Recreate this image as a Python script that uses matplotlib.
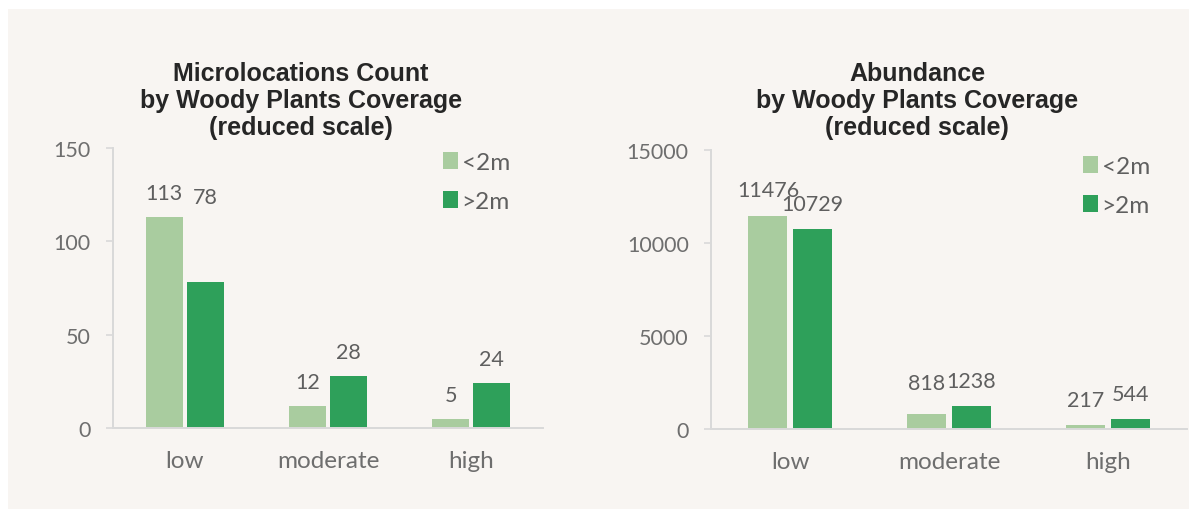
import matplotlib
matplotlib.use("Agg")
import matplotlib.pyplot as plt
from matplotlib.patches import Rectangle, Patch

# ---- data ----
categories = ["low", "moderate", "high"]
series_names = ["<2m", ">2m"]

count_under_2m = [113, 12, 5]
count_over_2m = [78, 28, 24]

abundance_under_2m = [11476, 818, 217]
abundance_over_2m = [10729, 1238, 544]

count_ticks = [0, 50, 100, 150]
abundance_ticks = [0, 5000, 10000, 15000]

count_title = "Microlocations Count\nby Woody Plants Coverage\n(reduced scale)"
abundance_title = "Abundance\nby Woody Plants Coverage\n(reduced scale)"

# ---- style ----
BG = "#f8f5f2"
LIGHT = "#a9cc9f"
DARK = "#2ea05a"
AXIS = "#d9d9d9"
TICK_TXT = "#6e6e6e"
LABEL_TXT = "#5f5f5f"
TITLE_TXT = "#262626"
BODY_FONT = ["Lato", "DejaVu Sans"]
TITLE_FONT = ["Liberation Sans", "DejaVu Sans"]
NUM_SIZE = 15.5
WORD_SIZE = 17.5

W, H = 1189, 510
fig = plt.figure(figsize=(W / 100, H / 100), dpi=100)
fig.patch.set_facecolor("white")

# light panel behind both charts
fig.patches.append(Rectangle((8 / W, 0), 1 - 8 / W, 1 - 10 / H,
                             transform=fig.transFigure, facecolor=BG,
                             edgecolor="none", zorder=-5))


def px_axes(x0, x1, y_top, y_base):
    return fig.add_axes([x0 / W, 1 - y_base / H, (x1 - x0) / W, (y_base - y_top) / H])


def draw_panel(ax, lo, hi, ticks, width, gap, label_pad, extra_pad):
    ax.set_facecolor("none")
    xs = range(len(categories))
    off = (width + gap) / 2
    bars_a = ax.bar([x - off for x in xs], lo, width=width, color=LIGHT, zorder=3)
    bars_b = ax.bar([x + off for x in xs], hi, width=width, color=DARK, zorder=3)
    ax.set_xlim(-0.5, len(categories) - 0.5)
    ax.set_ylim(ticks[0], ticks[-1])
    ax.set_yticks(ticks)
    ax.set_yticklabels([str(t) for t in ticks], fontfamily=BODY_FONT,
                       fontsize=NUM_SIZE, color=TICK_TXT)
    ax.set_xticks(list(xs))
    ax.set_xticklabels(categories, fontfamily=BODY_FONT, fontsize=WORD_SIZE,
                       color=TICK_TXT)
    ax.tick_params(axis="x", length=0, pad=16)
    ax.tick_params(axis="y", length=5, width=1.2, color=AXIS, pad=11)
    for side in ("top", "right"):
        ax.spines[side].set_visible(False)
    for side in ("left", "bottom"):
        ax.spines[side].set_color(AXIS)
        ax.spines[side].set_linewidth(1.4)
    ax.spines["bottom"].set_zorder(4)

    for bars, vals, key in ((bars_a, lo, 0), (bars_b, hi, 1)):
        for i, (b, v) in enumerate(zip(bars, vals)):
            dy = label_pad + extra_pad.get((key, i), 0)
            ax.annotate(str(v), (b.get_x() + b.get_width() / 2, v),
                        xytext=(0, dy), textcoords="offset points",
                        ha="center", va="bottom", fontfamily=BODY_FONT,
                        fontsize=NUM_SIZE, color=LABEL_TXT, zorder=5)


def add_legend(ax, x_px, y_px):
    handles = [Patch(facecolor=LIGHT, edgecolor="none"),
               Patch(facecolor=DARK, edgecolor="none")]
    leg = ax.legend(handles, series_names, loc="center left",
                    bbox_to_anchor=(x_px / W, 1 - y_px / H),
                    bbox_transform=fig.transFigure, frameon=False,
                    handlelength=0.62, handleheight=0.7, handletextpad=0.15,
                    labelspacing=0.75, borderpad=0, borderaxespad=0,
                    prop={"family": BODY_FONT, "size": WORD_SIZE})
    for t in leg.get_texts():
        t.set_color(LABEL_TXT)


# left chart: counts
ax1 = px_axes(113, 543, 149, 429)
draw_panel(ax1, count_under_2m, count_over_2m, count_ticks,
           width=0.258, gap=0.028, label_pad=10, extra_pad={(1, 0): 44})
add_legend(ax1, 443, 183)
fig.text(301 / W, 1 - 101 / H, count_title, ha="center", va="center",
         fontfamily=TITLE_FONT, fontweight="bold", fontsize=18,
         color=TITLE_TXT, linespacing=1.17)

# right chart: abundance
ax2 = px_axes(711, 1187, 151, 430)
draw_panel(ax2, abundance_under_2m, abundance_over_2m, abundance_ticks,
           width=0.246, gap=0.036, label_pad=11, extra_pad={(0, 1): 4})
add_legend(ax2, 1083, 187)
fig.text(917 / W, 1 - 101 / H, abundance_title, ha="center", va="center",
         fontfamily=TITLE_FONT, fontweight="bold", fontsize=18,
         color=TITLE_TXT, linespacing=1.17)

fig.savefig("out.png", dpi=100, facecolor=fig.get_facecolor())
